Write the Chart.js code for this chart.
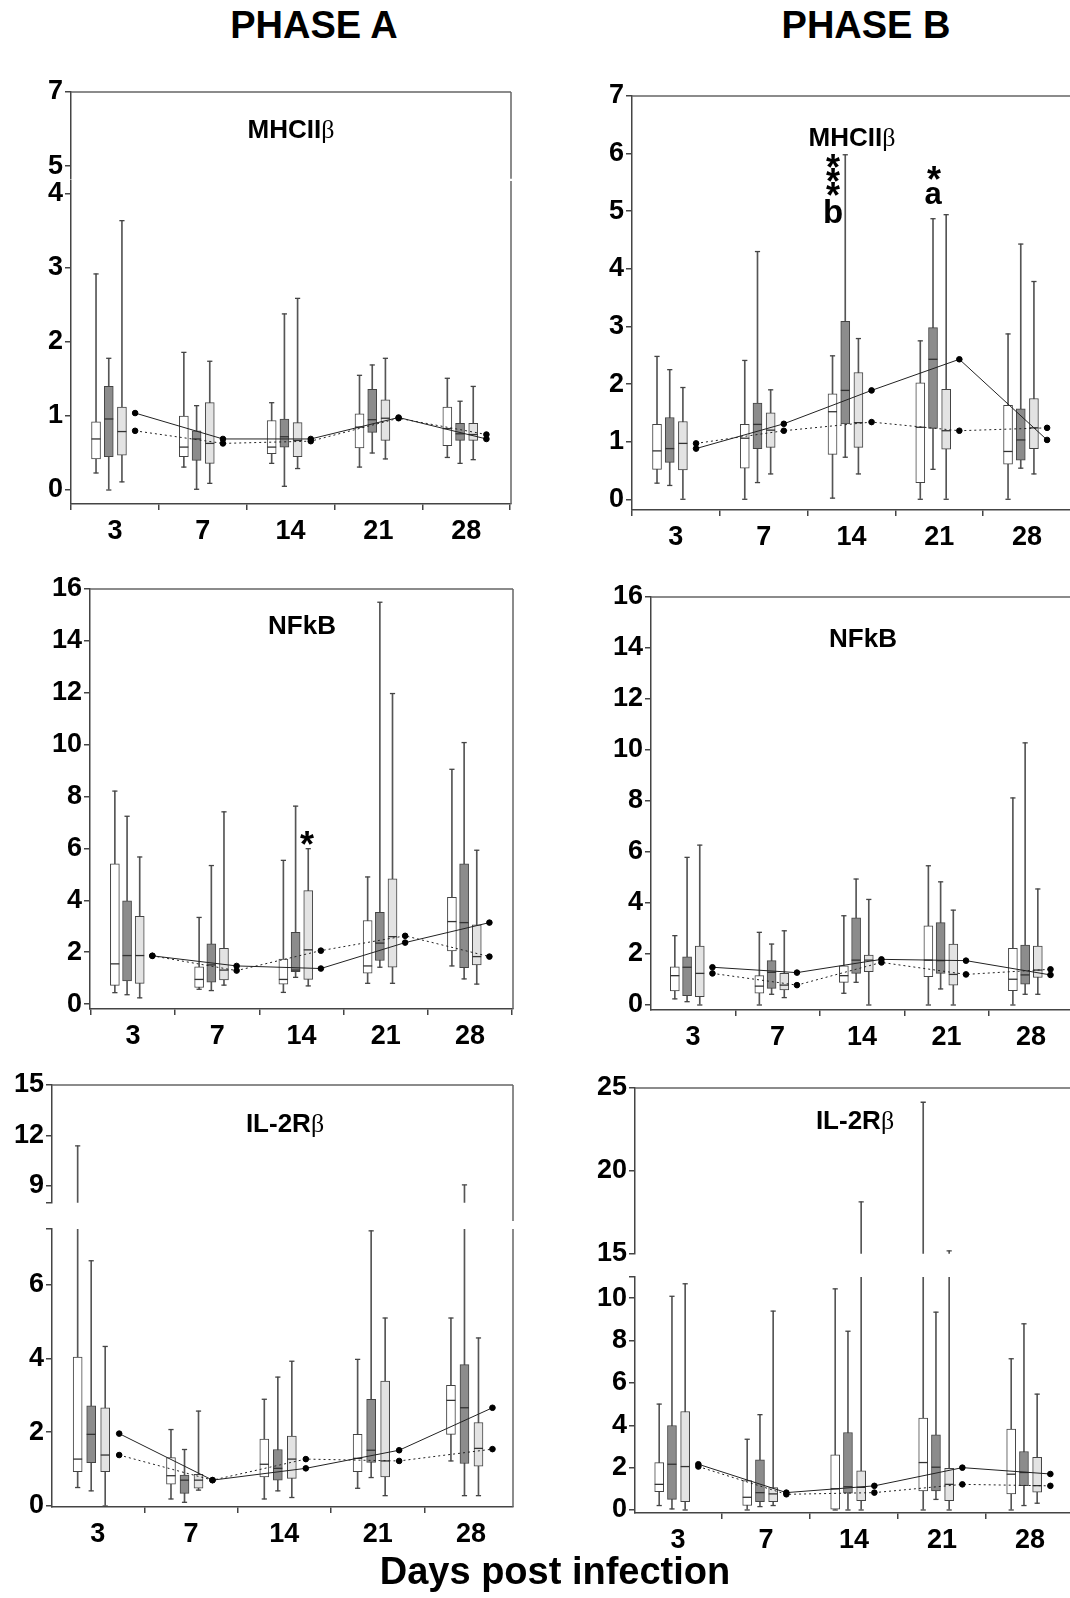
<!DOCTYPE html>
<html>
<head>
<meta charset="utf-8">
<script src="https://cdn.jsdelivr.net/npm/chart.js@4.4.1/dist/chart.umd.min.js"></script>
<style>
    html, body { margin: 0; padding: 0; overflow: hidden; background: #fff; }
    body { position: relative; width: 1070px; height: 1598px; font-family: "Liberation Sans", Arial, sans-serif; }
    canvas { position: absolute; }
    .txt { position: absolute; font-weight: bold; white-space: nowrap; line-height: 1; transform: translate(-50%, -50%); color: #000; }
    .beta { font-weight: normal; font-family: "Liberation Serif", serif; }
</style>
</head>
<body>
<script>
// x categories (days post infection)
const days = ["3", "7", "14", "21", "28"];

// each box row: [min, q1, median, q3, max]
// Phase A - MHCIIb
const aMhcWhite = [[0.23, 0.42, 0.69, 0.92, 2.92], [0.31, 0.45, 0.58, 1.00, 1.86], [0.36, 0.49, 0.58, 0.94, 1.18], [0.31, 0.57, 0.85, 1.03, 1.55], [0.44, 0.60, 0.83, 1.12, 1.51]];
const aMhcDark = [[0.00, 0.45, 0.96, 1.40, 1.78], [0.01, 0.40, 0.69, 0.80, 1.14], [0.05, 0.58, 0.72, 0.96, 2.38], [0.50, 0.78, 0.95, 1.36, 1.69], [0.36, 0.67, 0.76, 0.90, 1.20]];
const aMhcLight = [[0.11, 0.47, 0.79, 1.12, 3.64], [0.09, 0.36, 0.63, 1.18, 1.74], [0.29, 0.45, 0.67, 0.91, 2.59], [0.42, 0.67, 0.97, 1.22, 1.78], [0.41, 0.67, 0.75, 0.90, 1.40]];
const aMhcSolid = [1.04, 0.69, 0.69, 0.98, 0.69];
const aMhcDotted = [0.80, 0.63, 0.66, 0.97, 0.75];

// Phase B - MHCIIb
const bMhcWhite = [[0.28, 0.52, 0.84, 1.30, 2.48], [0.00, 0.54, 1.06, 1.30, 2.41], [0.02, 0.78, 1.52, 1.83, 2.49], [0.00, 0.29, 1.25, 2.02, 2.75], [0.00, 0.61, 0.83, 1.63, 2.87]];
const bMhcDark = [[0.24, 0.64, 0.88, 1.42, 2.25], [0.29, 0.88, 1.30, 1.67, 4.30], [0.73, 1.31, 1.89, 3.09, 5.98], [0.52, 1.23, 2.43, 2.98, 4.87], [0.54, 0.68, 1.03, 1.57, 4.43]];
const bMhcLight = [[0.00, 0.51, 0.97, 1.35, 1.94], [0.44, 0.90, 1.20, 1.50, 1.90], [0.44, 0.90, 1.33, 2.20, 2.79], [0.00, 0.87, 1.19, 1.91, 4.94], [0.44, 0.88, 1.24, 1.75, 3.78]];
const bMhcSolid = [0.88, 1.31, 1.89, 2.43, 1.03];
const bMhcDotted = [0.97, 1.19, 1.34, 1.19, 1.24];

// Phase A - NFkB
const aNfkWhite = [[0.44, 0.72, 1.55, 5.41, 8.21], [0.57, 0.64, 0.95, 1.44, 3.34], [0.45, 0.77, 0.95, 1.73, 5.54], [0.80, 1.19, 1.47, 3.22, 4.90], [1.47, 2.05, 3.18, 4.11, 9.05]];
const aNfkDark = [[0.36, 0.89, 1.87, 3.98, 7.24], [0.52, 0.84, 1.51, 2.32, 5.34], [1.03, 1.25, 1.31, 2.77, 7.63], [1.42, 1.68, 2.35, 3.54, 15.49], [0.97, 1.40, 3.14, 5.41, 10.08]];
const aNfkLight = [[0.24, 0.80, 1.87, 3.38, 5.67], [0.73, 0.93, 1.31, 2.15, 7.41], [0.70, 0.95, 2.09, 4.37, 5.99], [0.80, 1.42, 2.60, 4.83, 11.97], [0.77, 1.51, 1.83, 3.05, 5.93]];
const aNfkSolid = [1.86, 1.47, 1.37, 2.37, 3.14];
const aNfkDotted = [1.86, 1.29, 2.06, 2.63, 1.83];

// Phase B - NFkB
const bNfkWhite = [[0.24, 0.55, 1.15, 1.50, 2.72], [0.00, 0.46, 0.74, 1.15, 2.85], [0.46, 0.89, 1.15, 1.54, 3.50], [0.00, 1.11, 1.76, 3.10, 5.46], [0.00, 0.56, 1.01, 2.22, 8.12]];
const bNfkDark = [[0.13, 0.37, 1.48, 1.89, 5.79], [0.42, 0.65, 1.28, 1.74, 2.39], [0.89, 1.24, 1.76, 3.42, 4.94], [0.63, 1.24, 1.74, 3.23, 4.83], [0.42, 0.82, 1.18, 2.35, 10.28]];
const bNfkLight = [[0.00, 0.33, 1.24, 2.31, 6.27], [0.29, 0.59, 0.78, 1.24, 2.91], [0.00, 1.31, 1.76, 1.96, 4.14], [0.00, 0.78, 1.20, 2.39, 3.72], [0.42, 1.08, 1.37, 2.31, 4.55]];
const bNfkSolid = [1.48, 1.27, 1.79, 1.74, 1.18];
const bNfkDotted = [1.24, 0.78, 1.67, 1.20, 1.40];

// Phase A - IL-2Rb
const aIlWhite = [[0.50, 0.93, 1.27, 4.03, 11.38], [0.19, 0.59, 0.82, 1.31, 2.07], [0.19, 0.79, 1.13, 1.81, 2.89], [0.48, 0.93, 1.29, 1.94, 3.97], [1.22, 1.94, 2.86, 3.27, 5.09]];
const aIlDark = [[0.41, 1.17, 1.94, 2.71, 6.64], [0.10, 0.34, 0.70, 0.84, 1.53], [0.41, 0.70, 1.02, 1.53, 3.49], [0.77, 1.18, 1.51, 2.89, 7.45], [0.28, 1.15, 2.66, 3.83, 9.06]];
const aIlLight = [[0.00, 0.93, 1.38, 2.66, 4.32], [0.43, 0.48, 0.70, 0.86, 2.57], [0.23, 0.75, 1.27, 1.89, 3.92], [0.28, 0.79, 1.22, 3.38, 5.09], [0.28, 1.08, 1.56, 2.26, 4.55]];
const aIlSolid = [1.96, 0.70, 1.02, 1.51, 2.66];
const aIlDotted = [1.38, 0.70, 1.27, 1.22, 1.54];

// Phase B - IL-2Rb
const bIlWhite = [[0.21, 0.87, 1.21, 2.24, 5.00], [0.00, 0.21, 0.60, 1.39, 3.34], [0.00, 0.00, 1.00, 2.60, 10.44], [0.00, 0.90, 2.24, 4.34, 24.14], [0.00, 0.76, 1.69, 3.82, 7.14]];
const bIlDark = [[0.05, 0.50, 2.16, 3.99, 10.09], [0.16, 0.39, 0.82, 2.37, 4.50], [0.00, 0.79, 1.10, 3.66, 8.44], [0.50, 0.90, 2.02, 3.55, 9.34], [0.21, 1.15, 1.77, 2.76, 8.79]];
const bIlLight = [[0.00, 0.39, 2.05, 4.65, 10.68], [0.21, 0.39, 0.76, 1.06, 9.39], [0.00, 0.44, 1.07, 1.85, 18.13], [0.00, 0.44, 1.21, 1.97, 15.18], [0.32, 0.84, 1.15, 2.49, 5.47]];
const bIlSolid = [2.16, 0.82, 1.14, 2.00, 1.70];
const bIlDotted = [2.05, 0.74, 0.82, 1.21, 1.14];

const FONT = "'Liberation Sans', Arial, sans-serif";
const off = { white: -0.215, dark: -0.07, light: 0.08, line: 0.23 };

// draws the top / right edge of the plot frame
const framePlugin = {
    id: "frame",
    afterDraw(chart, args, opts) {
        const ctx = chart.ctx;
        const a = chart.chartArea;
        ctx.save();
        ctx.strokeStyle = "#666";
        ctx.lineWidth = 1.5;
        ctx.beginPath();
        if (opts.top) { ctx.moveTo(a.left, a.top); ctx.lineTo(a.right, a.top); }
        if (opts.right) { ctx.moveTo(a.right, a.top); ctx.lineTo(a.right, a.bottom + (opts.extend || 0)); }
        ctx.stroke();
        ctx.restore();
    }
};

function boxSets(rows, dx, fill) {
    const xs = rows.map((r, i) => i + dx);
    return [
        // whisker
        { type: "bar", order: 4, grouped: false, barThickness: 1, backgroundColor: "#555",
          data: rows.map((r, i) => ({ x: xs[i], y: [r[0], r[4]] })) },
        // box
        { type: "bar", order: 3, grouped: false, barThickness: 9, backgroundColor: fill,
          borderColor: "#444", borderWidth: 1, borderSkipped: false,
          data: rows.map((r, i) => ({ x: xs[i], y: [r[1], r[3]] })) },
        // median
        { type: "scatter", order: 2, pointStyle: "line", pointRadius: 4.5, pointBorderColor: "#333", pointBorderWidth: 1.3,
          data: rows.map((r, i) => ({ x: xs[i], y: r[2] })) },
        // whisker caps
        { type: "scatter", order: 2, pointStyle: "line", pointRadius: 2.6, pointBorderColor: "#444", pointBorderWidth: 1.3,
          data: rows.flatMap((r, i) => [{ x: xs[i], y: r[0] }, { x: xs[i], y: r[4] }]) }
    ];
}

function lineSet(vals, dotted) {
    return {
        type: "line", order: 1, borderColor: "#222", borderWidth: 1, borderDash: dotted ? [2, 3] : [],
        pointRadius: 2.8, pointBackgroundColor: "#000", pointBorderColor: "#000", fill: false, tension: 0,
        data: vals.map((v, i) => ({ x: i + off.line, y: v }))
    };
}

function panelSets(p) {
    return [
        ...boxSets(p.white, off.white, "#ffffff"),
        ...boxSets(p.dark, off.dark, "#8c8c8c"),
        ...boxSets(p.light, off.light, "#e3e3e3"),
        lineSet(p.solid, false),
        lineSet(p.dotted, true)
    ];
}

// one Chart per axis segment; left/top/width/height is the plot area
function makeChart(p, seg) {
    const YW = 80, TP = 24, RP = 10;
    const BP = seg.showX ? 52 : 16;
    const c = document.createElement("canvas");
    const w = YW + seg.width + RP;
    const h = TP + seg.height + BP;
    c.width = w;
    c.height = h;
    c.style.left = (seg.left - YW) + "px";
    c.style.top = (seg.top - TP) + "px";
    c.style.width = w + "px";
    c.style.height = h + "px";
    document.body.appendChild(c);

    const tickFont = { family: FONT, size: 27, weight: "bold" };
    const xScale = {
        type: "linear", min: seg.xMin, max: seg.xMax, display: !!seg.showX, offset: false,
        afterBuildTicks: s => { s.ticks = days.map((d, i) => ({ value: i })); },
        grid: { drawOnChartArea: false, color: "#444", lineWidth: 1.5, tickLength: 6 },
        border: { color: "#444", width: 1.5 },
        ticks: { callback: v => days[v], font: tickFont, color: "#000", padding: 5, maxRotation: 0, autoSkip: false }
    };
    if (seg.showX) xScale.afterFit = s => { s.height = BP; };

    new Chart(c, {
        data: { datasets: panelSets(p) },
        plugins: [framePlugin],
        options: {
            responsive: false,
            animation: false,
            events: [],
            layout: { padding: { top: TP, right: RP, bottom: seg.showX ? 0 : BP, left: 0 } },
            plugins: {
                legend: { display: false },
                tooltip: { enabled: false },
                frame: { top: !!seg.frameTop, right: true, extend: seg.extend || 0 }
            },
            scales: {
                x: xScale,
                y: {
                    type: "linear", min: seg.yMin, max: seg.yMax,
                    afterBuildTicks: s => { s.ticks = seg.ticks.map(v => ({ value: v })); },
                    afterFit: s => { s.width = YW; },
                    grid: { drawOnChartArea: false, color: "#444", lineWidth: 1.5, tickLength: 6 },
                    border: { color: "#444", width: 1.5 },
                    ticks: { callback: v => seg.labels.includes(v) ? String(v) : "", font: tickFont, color: "#000", padding: 2 }
                }
            }
        }
    });
}

const panels = [
    { white: aMhcWhite, dark: aMhcDark, light: aMhcLight, solid: aMhcSolid, dotted: aMhcDotted, segs: [
        { left: 71, top: 92, width: 440, height: 89, xMin: -0.5, xMax: 4.51, yMin: 4.658, yMax: 7, ticks: [5, 7], labels: [5, 7], frameTop: true },
        { left: 71, top: 181, width: 440, height: 323, xMin: -0.5, xMax: 4.51, yMin: -0.189, yMax: 4.176, ticks: [0, 1, 2, 3, 4], labels: [0, 1, 2, 3, 4], showX: true }
    ] },
    { white: bMhcWhite, dark: bMhcDark, light: bMhcLight, solid: bMhcSolid, dotted: bMhcDotted, segs: [
        { left: 632, top: 96, width: 443, height: 414, xMin: -0.5, xMax: 4.548, yMin: -0.186, yMax: 7, ticks: [0, 1, 2, 3, 4, 5, 6, 7], labels: [0, 1, 2, 3, 4, 5, 6, 7], frameTop: true, showX: true }
    ] },
    { white: aNfkWhite, dark: aNfkDark, light: aNfkLight, solid: aNfkSolid, dotted: aNfkDotted, segs: [
        { left: 90, top: 589, width: 423, height: 420, xMin: -0.51, xMax: 4.51, yMin: -0.19, yMax: 16, ticks: [0, 2, 4, 6, 8, 10, 12, 14, 16], labels: [0, 2, 4, 6, 8, 10, 12, 14, 16], frameTop: true, showX: true }
    ] },
    { white: bNfkWhite, dark: bNfkDark, light: bNfkLight, solid: bNfkSolid, dotted: bNfkDotted, segs: [
        { left: 651, top: 597, width: 424, height: 413, xMin: -0.497, xMax: 4.52, yMin: -0.196, yMax: 16, ticks: [0, 2, 4, 6, 8, 10, 12, 14, 16], labels: [0, 2, 4, 6, 8, 10, 12, 14, 16], frameTop: true, showX: true }
    ] },
    { white: aIlWhite, dark: aIlDark, light: aIlLight, solid: aIlSolid, dotted: aIlDotted, segs: [
        { left: 52, top: 1085, width: 461, height: 120, xMin: -0.49, xMax: 4.45, yMin: 8, yMax: 15, ticks: [8, 9, 12, 15], labels: [9, 12, 15], frameTop: true, extend: 24 },
        { left: 52, top: 1229, width: 461, height: 278, xMin: -0.49, xMax: 4.45, yMin: -0.027, yMax: 7.5, ticks: [0, 2, 4, 6, 7.5], labels: [0, 2, 4, 6], showX: true }
    ] },
    { white: bIlWhite, dark: bIlDark, light: bIlLight, solid: bIlSolid, dotted: bIlDotted, segs: [
        { left: 635, top: 1088, width: 440, height: 168, xMin: -0.49, xMax: 4.51, yMin: 15, yMax: 25, ticks: [15, 20, 25], labels: [15, 20, 25], frameTop: true },
        { left: 635, top: 1277, width: 440, height: 236, xMin: -0.49, xMax: 4.51, yMin: -0.142, yMax: 11, ticks: [0, 2, 4, 6, 8, 10, 11], labels: [0, 2, 4, 6, 8, 10], showX: true }
    ] }
];

panels.forEach(p => p.segs.forEach(seg => makeChart(p, seg)));

// text labels: [html, x, y, font size]
const texts = [
    ["PHASE A", 314, 25, 38],
    ["PHASE B", 866, 25, 38],
    ["Days post infection", 555, 1571, 38],
    ["MHCII<span class='beta'>β</span>", 291, 129, 26],
    ["MHCII<span class='beta'>β</span>", 852, 137, 26],
    ["NFkB", 302, 625, 26],
    ["NFkB", 863, 638, 26],
    ["IL-2R<span class='beta'>β</span>", 285, 1123, 26],
    ["IL-2R<span class='beta'>β</span>", 855, 1120, 26],
    ["*", 833, 168, 36],
    ["*", 833, 182, 36],
    ["*", 833, 196, 36],
    ["b", 833, 211, 33],
    ["*", 934, 180, 36],
    ["a", 933, 193, 31],
    ["*", 307, 845, 36]
];
texts.forEach(t => {
    const d = document.createElement("div");
    d.className = "txt";
    d.innerHTML = t[0];
    d.style.left = t[1] + "px";
    d.style.top = t[2] + "px";
    d.style.fontSize = t[3] + "px";
    document.body.appendChild(d);
});
</script>
</body>
</html>
